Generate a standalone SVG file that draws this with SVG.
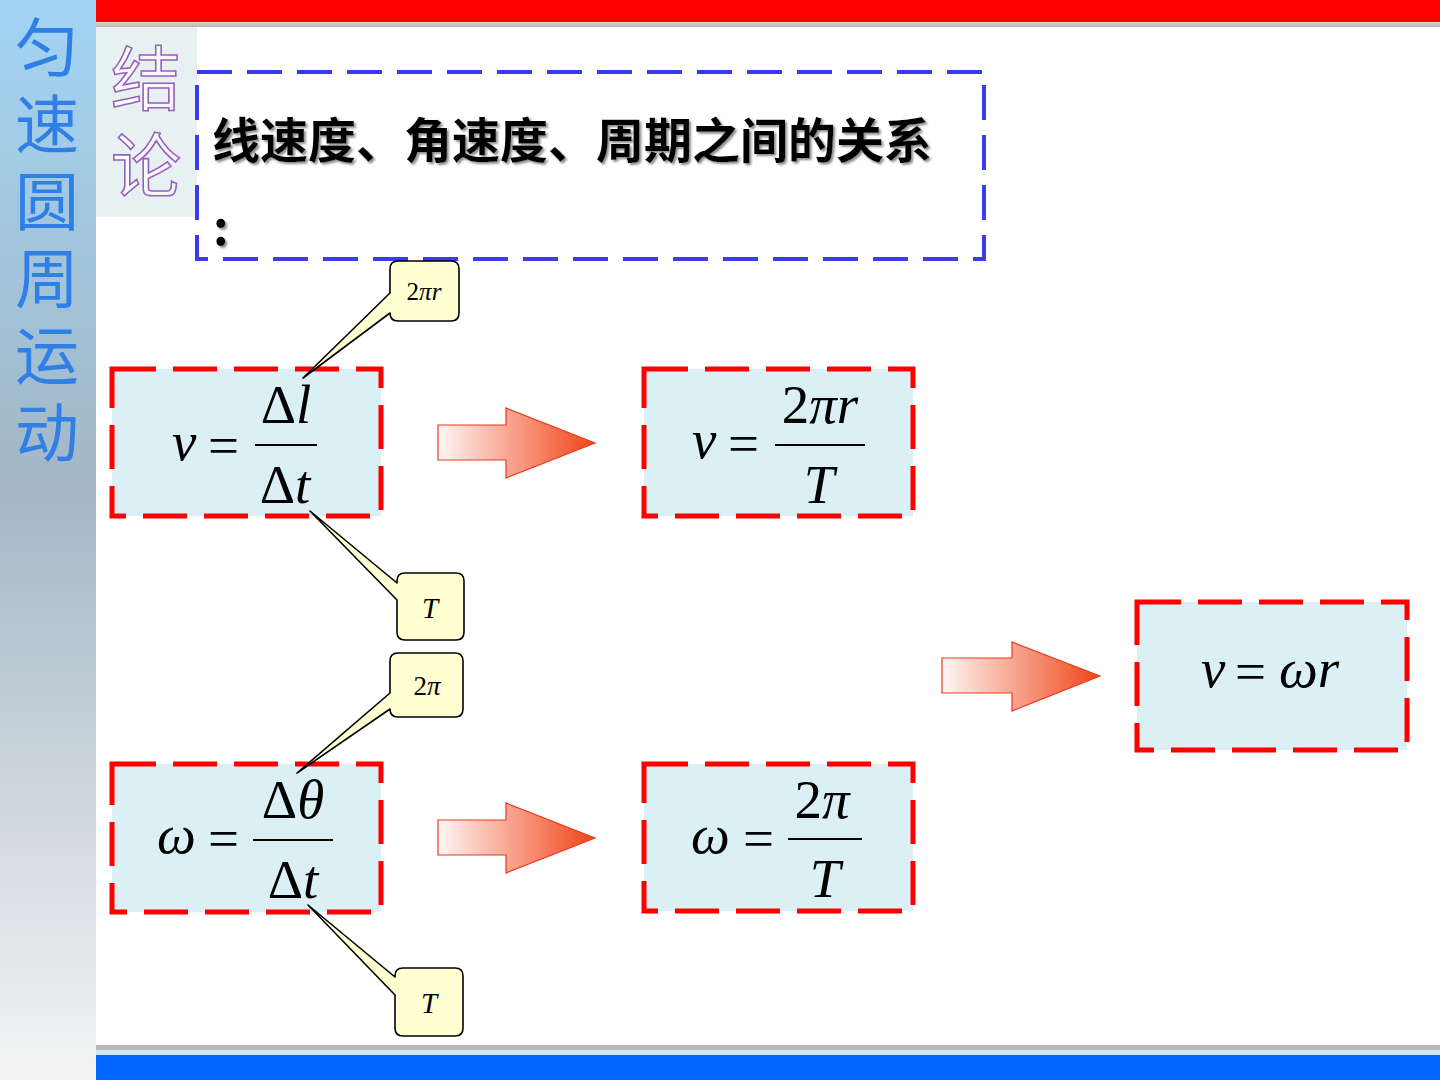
<svg xmlns="http://www.w3.org/2000/svg" width="1440" height="1080" viewBox="0 0 1440 1080">
<defs>
<linearGradient id="side" x1="0" y1="0" x2="0" y2="1">
<stop offset="0" stop-color="#a2d4f4"/>
<stop offset="0.45" stop-color="#a3b7c6"/>
<stop offset="1" stop-color="#f4f4f4"/>
</linearGradient>
<linearGradient id="arr" x1="0" y1="0" x2="1" y2="0">
<stop offset="0" stop-color="#fff6f4"/>
<stop offset="1" stop-color="#f04418"/>
</linearGradient>
<linearGradient id="grayline" x1="0" y1="0" x2="0" y2="1">
<stop offset="0" stop-color="#d8d8d8"/>
<stop offset="1" stop-color="#b8b4b0"/>
</linearGradient>
<linearGradient id="jlfill" x1="0" y1="0" x2="0" y2="1">
<stop offset="0" stop-color="#ffffff"/>
<stop offset="1" stop-color="#efe2fa"/>
</linearGradient>
<filter id="shd" x="-5%" y="-20%" width="110%" height="140%">
<feDropShadow dx="2" dy="2" stdDeviation="1" flood-color="#808080" flood-opacity="0.9"/>
</filter>
<style>
.side{font-family:"Noto Sans CJK SC","Noto Sans",sans-serif;font-size:64px;fill:#2f7fe6;writing-mode:vertical-rl;letter-spacing:13px}
.jl{font-family:"Noto Sans CJK SC",sans-serif;font-size:70px;fill:url(#jlfill);stroke:#9660bf;stroke-width:1.6;writing-mode:vertical-rl;letter-spacing:17px}
.title{font-family:"Noto Sans CJK SC",sans-serif;font-size:48px;font-weight:bold;fill:#000;filter:url(#shd)}
.bluebox{fill:none;stroke:#3a3af2;stroke-width:4;stroke-dasharray:35 15}
.redbox{fill:#daf0f5;stroke:#ff0000;stroke-width:5;stroke-dasharray:44 17}
.m{font-family:"Liberation Serif","Times New Roman",serif;font-size:55px;fill:#000}
.mc{font-family:"Liberation Serif","Times New Roman",serif;fill:#000;text-anchor:middle}
.i{font-style:italic}
.frac{stroke:#000;stroke-width:2}
.arrow{fill:url(#arr);stroke:#e83a1e;stroke-width:1.2}
.call{fill:#ffffd2;stroke:#000;stroke-width:1.6;stroke-linejoin:round}
</style>
</defs>
<rect x="0" y="0" width="1440" height="1080" fill="#ffffff"/>
<g id="sidebar">
<rect x="0" y="0" width="96" height="1080" fill="url(#side)"/>
<text class="side" x="47" y="15">匀速圆周运动</text>
</g>
<g id="topbar">
<rect x="96" y="0" width="1344" height="22" fill="#ff0000"/>
<rect x="96" y="22" width="1344" height="5" fill="url(#grayline)"/>
</g>
<g id="bottombar">
<rect x="96" y="1045" width="1344" height="5" fill="#bcb8b6"/>
<rect x="96" y="1050" width="1344" height="5" fill="#cfe6f8"/>
<rect x="96" y="1055" width="1344" height="25" fill="#0066ff"/>
</g>
<g id="jielun">
<rect x="96" y="27" width="101" height="190" fill="#e8f1f2"/>
<text class="jl" x="146" y="43">结论</text>
</g>
<g id="title-box">
<rect class="bluebox" x="197" y="72" width="787" height="187"/>
<text class="title" x="212" y="158">线速度、角速度、周期之间的关系</text>
<text class="title" x="213" y="245" font-size="36">:</text>
</g>
<g id="connectors">
<path class="arrow" d="M438,425 H506 V408 L595,443 L506,478 V460 H438 Z"/>
<path class="arrow" d="M438,820 H506 V803 L595,838 L506,873 V855 H438 Z"/>
<path class="arrow" d="M942,658 H1012 V642 L1100,676 L1012,711 V693 H942 Z"/>
</g>
<g id="box-v-dl">
<rect class="redbox" x="112" y="369" width="269" height="147"/>
<text class="m i" x="172" y="460">v</text>
<text class="m" x="208" y="464">=</text>
<line class="frac" x1="255" y1="445" x2="317" y2="445"/>
<text class="mc" font-size="55" x="286" y="423">Δ<tspan class="i">l</tspan></text>
<text class="mc" font-size="55" x="285" y="503">Δ<tspan class="i">t</tspan></text>
</g>
<g id="box-v-T">
<rect class="redbox" x="644" y="369" width="269" height="147"/>
<text class="m i" x="692" y="458">v</text>
<text class="m" x="728" y="462">=</text>
<line class="frac" x1="775" y1="445" x2="865" y2="445"/>
<text class="mc" font-size="55" x="820" y="423">2<tspan class="i">πr</tspan></text>
<text class="mc i" font-size="55" x="819" y="503">T</text>
</g>
<g id="box-w-dth">
<rect class="redbox" x="112" y="764" width="269" height="148"/>
<text class="m i" x="157" y="853">ω</text>
<text class="m" x="208" y="857">=</text>
<line class="frac" x1="253" y1="840" x2="333" y2="840"/>
<text class="mc" font-size="55" x="293" y="818">Δ<tspan class="i">θ</tspan></text>
<text class="mc" font-size="55" x="293" y="898">Δ<tspan class="i">t</tspan></text>
</g>
<g id="box-w-T">
<rect class="redbox" x="644" y="764" width="269" height="147"/>
<text class="m i" x="691" y="853">ω</text>
<text class="m" x="743" y="857">=</text>
<line class="frac" x1="788" y1="839" x2="862" y2="839"/>
<text class="mc" font-size="55" x="822" y="818">2<tspan class="i">π</tspan></text>
<text class="mc i" font-size="55" x="825" y="897">T</text>
</g>
<g id="box-v-wr">
<rect class="redbox" x="1137" y="602" width="270" height="148"/>
<text class="m i" x="1201" y="687">v</text>
<text class="m" x="1235" y="690">=</text>
<text class="m i" x="1279" y="687">ωr</text>
</g>
<g id="callout-2pir">
<path class="call" d="M398,261 H451 Q459,261 459,269 V313 Q459,321 451,321 H398 Q390,321 390,313 L303,378 L390,293 V269 Q390,261 398,261 Z"/>
<text class="mc" font-size="25" x="424" y="300">2<tspan class="i">πr</tspan></text>
</g>
<g id="callout-T1">
<path class="call" d="M405,573 H456 Q464,573 464,581 V632 Q464,640 456,640 H405 Q397,640 397,632 V600 L310,511 L397,583 V581 Q397,573 405,573 Z"/>
<text class="mc i" font-size="29" x="430" y="618">T</text>
</g>
<g id="callout-2pi">
<path class="call" d="M398,653 H455 Q463,653 463,661 V709 Q463,717 455,717 H398 Q390,717 390,709 L297,773 L390,693 V661 Q390,653 398,653 Z"/>
<text class="mc" font-size="27" x="427" y="695">2<tspan class="i">π</tspan></text>
</g>
<g id="callout-T2">
<path class="call" d="M403,968 H455 Q463,968 463,976 V1028 Q463,1036 455,1036 H403 Q395,1036 395,1028 V995 L308,905 L395,977 V976 Q395,968 403,968 Z"/>
<text class="mc i" font-size="29" x="429" y="1013">T</text>
</g>
</svg>
